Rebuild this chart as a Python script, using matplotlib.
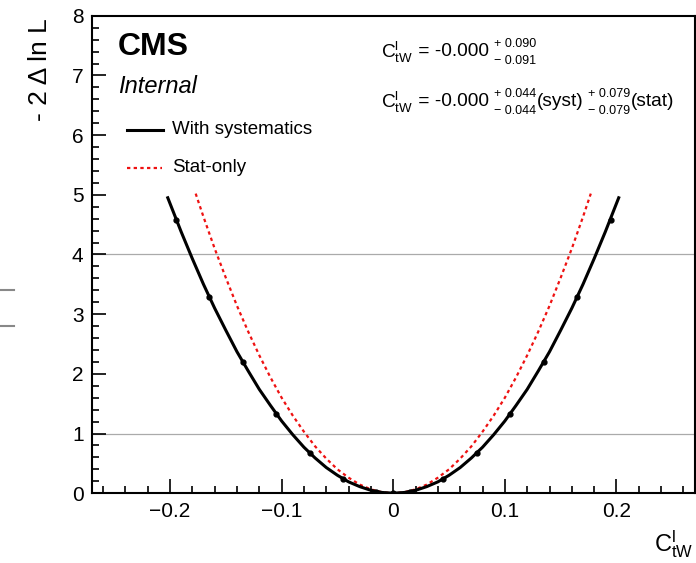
import matplotlib
matplotlib.use("Agg")
import matplotlib.pyplot as plt
from matplotlib.lines import Line2D
from matplotlib.ticker import MultipleLocator
from matplotlib.transforms import IdentityTransform

plt.rcParams['font.family'] = ['Liberation Sans', 'DejaVu Sans']
plt.rcParams['mathtext.fontset'] = 'custom'
plt.rcParams['mathtext.rm'] = 'Liberation Sans'
plt.rcParams['mathtext.it'] = 'Liberation Sans:italic'

# scan with systematics (line + scan points)
syst_x = [-0.202, -0.19, -0.18, -0.17, -0.16, -0.15, -0.14, -0.13, -0.12, -0.11, -0.10,
          -0.09, -0.08, -0.07, -0.06, -0.05, -0.04, -0.03, -0.02, -0.01, 0.0,
          0.01, 0.02, 0.03, 0.04, 0.05, 0.06, 0.07, 0.08, 0.09, 0.10,
          0.11, 0.12, 0.13, 0.14, 0.15, 0.16, 0.17, 0.18, 0.19, 0.202]
syst_y = [4.95, 4.38, 3.93, 3.50, 3.10, 2.73, 2.37, 2.05, 1.74, 1.47, 1.21,
          0.98, 0.77, 0.59, 0.43, 0.30, 0.19, 0.11, 0.048, 0.012, 0.0,
          0.012, 0.048, 0.11, 0.19, 0.30, 0.43, 0.59, 0.77, 0.98, 1.21,
          1.47, 1.74, 2.05, 2.37, 2.73, 3.10, 3.50, 3.93, 4.38, 4.95]
pts_x = [-0.195, -0.165, -0.135, -0.105, -0.075, -0.045, -0.015, 0.0,
         0.015, 0.045, 0.075, 0.105, 0.135, 0.165, 0.195]
pts_y = [4.58, 3.29, 2.20, 1.33, 0.68, 0.245, 0.027, 0.0,
         0.027, 0.245, 0.68, 1.33, 2.20, 3.29, 4.58]

# stat-only scan
stat_x = [-0.177, -0.17, -0.16, -0.15, -0.14, -0.13, -0.12, -0.11, -0.10, -0.09,
          -0.08, -0.07, -0.06, -0.05, -0.04, -0.03, -0.02, -0.01, 0.0,
          0.01, 0.02, 0.03, 0.04, 0.05, 0.06, 0.07, 0.08, 0.09, 0.10,
          0.11, 0.12, 0.13, 0.14, 0.15, 0.16, 0.17, 0.177]
stat_y = [5.02, 4.63, 4.10, 3.61, 3.14, 2.71, 2.31, 1.94, 1.60, 1.30,
          1.03, 0.785, 0.58, 0.40, 0.26, 0.144, 0.064, 0.016, 0.0,
          0.016, 0.064, 0.144, 0.26, 0.40, 0.58, 0.785, 1.03, 1.30, 1.60,
          1.94, 2.31, 2.71, 3.14, 3.61, 4.10, 4.63, 5.02]

xticks = [-0.2, -0.1, 0.0, 0.1, 0.2]
xtick_labels = ['\u22120.2', '\u22120.1', '0', '0.1', '0.2']
yticks = [0, 1, 2, 3, 4, 5, 6, 7, 8]
ref_levels = [1, 4]

# fit results: (up, down) errors
total_err = ('+ 0.090', '\u2212 0.091')
syst_err = ('+ 0.044', '\u2212 0.044')
stat_err = ('+ 0.079', '\u2212 0.079')
central = '-0.000'

W, H = 696, 563
fig = plt.figure(figsize=(W / 100, H / 100), dpi=100)
ax = fig.add_axes([0.132, 0.124, 0.866, 0.848])

for lv in ref_levels:
    ax.axhline(lv, color='#aaaaaa', lw=0.9, zorder=1)

ax.plot(stat_x, stat_y, color='#ee1111', lw=1.6, ls=(0, (1.5, 1.5)), zorder=2)
ax.plot(syst_x, syst_y, color='black', lw=2.2, zorder=3)
ax.plot(pts_x, pts_y, 'o', color='black', ms=3.5, zorder=4)

ax.set_xlim(-0.27, 0.27)
ax.set_ylim(0, 8)
ax.set_xticks(xticks)
ax.set_xticklabels(xtick_labels)
ax.set_yticks(yticks)
ax.xaxis.set_minor_locator(MultipleLocator(0.02))
ax.yaxis.set_minor_locator(MultipleLocator(0.2))
ax.tick_params(which='both', direction='in', top=False, right=False,
               labelsize=15, width=1.2, pad=6)
ax.tick_params(which='major', length=10)
ax.tick_params(which='minor', length=5)
for s in ax.spines.values():
    s.set_linewidth(1.5)

# axis titles
fig.text(40 / W, 1 - 18 / H, '- 2 \u0394 ln L', rotation=90,
         ha='center', va='top', fontsize=19)
fig.text(674 / W, 1 - 544 / H, r'$\mathregular{C^{l}_{tW}}$',
         ha='center', va='center', fontsize=17)

fig.text(118 / W, 1 - 47 / H, 'CMS', fontsize=23, fontweight='bold',
         ha='left', va='center')
fig.text(118 / W, 1 - 86 / H, 'Internal', fontsize=17, fontstyle='italic',
         ha='left', va='center')

# legend
fig.add_artist(Line2D([127 / W, 163 / W], [1 - 130 / H] * 2, color='black', lw=2.2))
fig.text(172 / W, 1 - 130 / H, 'With systematics', fontsize=13.5,
         ha='left', va='center')
fig.add_artist(Line2D([127 / W, 162 / W], [1 - 168 / H] * 2,
                      color='#ee1111', lw=1.6, ls=(0, (1.5, 1.5))))
fig.text(172 / W, 1 - 168 / H, 'Stat-only', fontsize=13.5,
         ha='left', va='center')

# fit result text, built piece by piece
renderer = fig.canvas.get_renderer()
px = IdentityTransform()


def put(x, y, s, size, va='center'):
    t = fig.text(x, y, s, fontsize=size, ha='left', va=va, transform=px)
    return t.get_window_extent(renderer).x1


def stack(x, y, pair, size=9):
    a = put(x, y + 8, pair[0], size)
    b = put(x, y - 9, pair[1], size)
    return max(a, b)


y1 = H - 52
x = put(381, y1, r'$\mathregular{C^{l}_{tW}}$', 13.8)
x = put(x, y1, ' = ' + central, 13.8)
stack(x + 5, y1, total_err)

y2 = H - 102
x = put(381, y2, r'$\mathregular{C^{l}_{tW}}$', 13.8)
x = put(x, y2, ' = ' + central, 13.8)
x = stack(x + 5, y2, syst_err)
x = put(x, y2, '(syst)', 13.8)
x = stack(x + 5, y2, stat_err)
put(x, y2, '(stat)', 13.8)

# stray marks left of the axis
fig.add_artist(Line2D([0, 14 / W], [1 - 290 / H] * 2, color='#888888', lw=1.5))
fig.add_artist(Line2D([0, 14 / W], [1 - 326 / H] * 2, color='#888888', lw=1.5))

fig.savefig('out.png', dpi=100)
